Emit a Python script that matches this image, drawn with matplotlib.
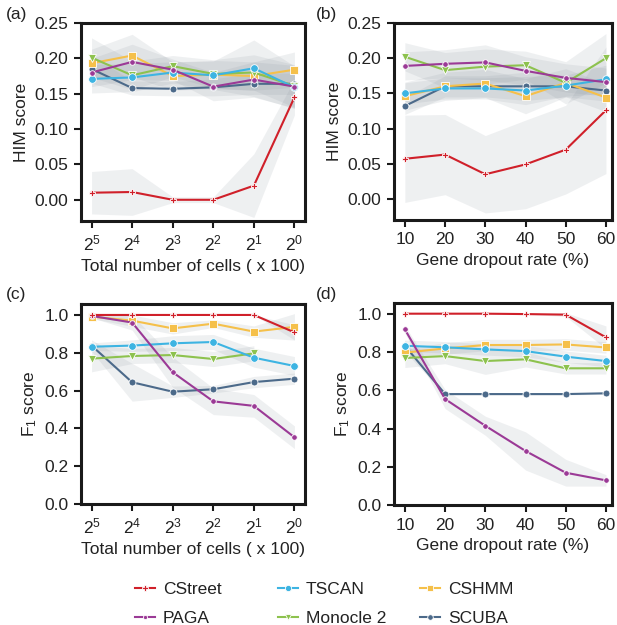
import matplotlib.pyplot as plt
import numpy as np
from matplotlib.lines import Line2D

plt.rcParams['font.family'] = ['Liberation Sans', 'DejaVu Sans']
plt.rcParams['mathtext.fontset'] = 'custom'
plt.rcParams['mathtext.rm'] = 'Liberation Sans'
plt.rcParams['mathtext.it'] = 'Liberation Sans'
plt.rcParams['text.color'] = '#222222'
plt.rcParams['axes.labelcolor'] = '#222222'
plt.rcParams['xtick.color'] = '#222222'
plt.rcParams['ytick.color'] = '#222222'

FS = 12.5

# categories
methods = ['CStreet', 'PAGA', 'TSCAN', 'Monocle 2', 'CSHMM', 'SCUBA']
cell_labels = ['$2^{5}$', '$2^{4}$', '$2^{3}$', '$2^{2}$', '$2^{1}$', '$2^{0}$']
dropout = [10, 20, 30, 40, 50, 60]

# (a) HIM score vs number of cells
him_cells = {
    'CStreet':   [0.010, 0.011, 0.000, 0.000, 0.020, 0.145],
    'PAGA':      [0.180, 0.195, 0.184, 0.160, 0.170, 0.160],
    'TSCAN':     [0.171, 0.173, 0.180, 0.176, 0.186, 0.159],
    'Monocle 2': [0.201, 0.176, 0.189, 0.178, 0.180, 0.161],
    'CSHMM':     [0.193, 0.204, 0.175, 0.177, 0.175, 0.184],
    'SCUBA':     [0.185, 0.158, 0.157, 0.159, 0.164, 0.164],
}
him_cells_sd = {
    'CStreet':   [0.030, 0.033, 0.004, 0.004, 0.045, 0.025],
    'PAGA':      [0.020, 0.025, 0.015, 0.020, 0.025, 0.030],
    'TSCAN':     [0.020, 0.020, 0.015, 0.020, 0.040, 0.030],
    'Monocle 2': [0.028, 0.020, 0.015, 0.020, 0.025, 0.030],
    'CSHMM':     [0.020, 0.030, 0.020, 0.020, 0.020, 0.025],
    'SCUBA':     [0.020, 0.010, 0.010, 0.012, 0.015, 0.015],
}

# (b) HIM score vs dropout
him_drop = {
    'CStreet':   [0.057, 0.063, 0.035, 0.049, 0.070, 0.126],
    'PAGA':      [0.189, 0.192, 0.194, 0.182, 0.172, 0.166],
    'TSCAN':     [0.150, 0.157, 0.157, 0.154, 0.161, 0.170],
    'Monocle 2': [0.202, 0.183, 0.188, 0.190, 0.165, 0.200],
    'CSHMM':     [0.146, 0.160, 0.164, 0.146, 0.165, 0.144],
    'SCUBA':     [0.132, 0.160, 0.160, 0.160, 0.160, 0.154],
}
him_drop_sd = {
    'CStreet':   [0.062, 0.057, 0.055, 0.063, 0.063, 0.090],
    'PAGA':      [0.020, 0.020, 0.025, 0.020, 0.020, 0.020],
    'TSCAN':     [0.015, 0.015, 0.015, 0.020, 0.015, 0.020],
    'Monocle 2': [0.020, 0.025, 0.025, 0.020, 0.030, 0.035],
    'CSHMM':     [0.020, 0.020, 0.020, 0.025, 0.020, 0.020],
    'SCUBA':     [0.012, 0.015, 0.015, 0.020, 0.015, 0.015],
}

# (c) F1 score vs number of cells
f1_cells = {
    'CStreet':   [1.000, 1.000, 1.000, 1.000, 1.000, 0.908],
    'PAGA':      [0.995, 0.960, 0.697, 0.543, 0.519, 0.353],
    'TSCAN':     [0.832, 0.838, 0.850, 0.857, 0.774, 0.730],
    'Monocle 2': [0.769, 0.783, 0.788, 0.767, 0.797, np.nan],
    'CSHMM':     [0.991, 0.970, 0.929, 0.954, 0.912, 0.937],
    'SCUBA':     [0.838, 0.644, 0.594, 0.607, 0.645, 0.663],
}
f1_cells_sd = {
    'CStreet':   [0.000, 0.000, 0.000, 0.000, 0.000, 0.040],
    'PAGA':      [0.010, 0.040, 0.080, 0.070, 0.060, 0.060],
    'TSCAN':     [0.020, 0.030, 0.040, 0.040, 0.050, 0.050],
    'Monocle 2': [0.070, 0.040, 0.040, 0.040, 0.040, np.nan],
    'CSHMM':     [0.010, 0.030, 0.030, 0.020, 0.030, 0.070],
    'SCUBA':     [0.030, 0.100, 0.030, 0.020, 0.030, 0.030],
}

# (d) F1 score vs dropout
f1_drop = {
    'CStreet':   [1.002, 1.002, 1.002, 1.000, 0.997, 0.878],
    'PAGA':      [0.920, 0.555, 0.415, 0.283, 0.169, 0.129],
    'TSCAN':     [0.834, 0.826, 0.815, 0.806, 0.777, 0.754],
    'Monocle 2': [0.770, 0.780, 0.754, 0.763, 0.716, 0.716],
    'CSHMM':     [0.798, 0.820, 0.838, 0.838, 0.841, 0.825],
    'SCUBA':     [0.834, 0.581, 0.581, 0.581, 0.581, 0.585],
}
f1_drop_sd = {
    'CStreet':   [0.000, 0.000, 0.000, 0.000, 0.010, 0.060],
    'PAGA':      [0.020, 0.050, 0.050, 0.100, 0.070, 0.030],
    'TSCAN':     [0.030, 0.030, 0.030, 0.030, 0.030, 0.030],
    'Monocle 2': [0.050, 0.040, 0.070, 0.040, 0.030, 0.030],
    'CSHMM':     [0.020, 0.030, 0.030, 0.030, 0.030, 0.030],
    'SCUBA':     [0.030, 0.005, 0.005, 0.005, 0.005, 0.005],
}

colors = {'CStreet': '#d0202a', 'PAGA': '#9b3a96', 'TSCAN': '#3db4e2',
          'Monocle 2': '#8dc24e', 'CSHMM': '#f5c04a', 'SCUBA': '#4c6a8a'}
markers = {'CStreet': 'P', 'PAGA': 'o', 'TSCAN': 'o',
           'Monocle 2': 'v', 'CSHMM': 's', 'SCUBA': 'o'}
msizes = {'CStreet': 5, 'PAGA': 4, 'TSCAN': 5.5,
          'Monocle 2': 5.5, 'CSHMM': 6, 'SCUBA': 5}

W, H = 617, 625
fig = plt.figure(figsize=(W / 100, H / 100), dpi=100)


def add_ax(l, t, r, b):
    return fig.add_axes([l / W, 1 - b / H, (r - l) / W, (b - t) / H])


def draw(ax, x, vals, sds):
    for m in methods:
        y = np.array(vals[m], dtype=float)
        s = np.array(sds[m], dtype=float)
        ok = ~np.isnan(y)
        ax.fill_between(np.array(x)[ok], (y - s)[ok], (y + s)[ok],
                        color='#8c96a0', alpha=0.14, linewidth=0)
    for m in reversed(methods):
        ax.plot(x, vals[m], color=colors[m], lw=1.5, marker=markers[m],
                ms=msizes[m], mec='white', mew=0.6)


def style(ax):
    for sp in ax.spines.values():
        sp.set_linewidth(2.2)
        sp.set_color('#1a1a1a')
    ax.tick_params(width=1.5, length=5, labelsize=FS, pad=4, color='#1a1a1a')


xi = np.arange(6)

ax_a = add_ax(81, 23, 305, 221)
draw(ax_a, xi, him_cells, him_cells_sd)
ax_a.set_xlim(-0.26, 5.26)
ax_a.set_ylim(-0.03, 0.25)
ax_a.set_yticks([0, 0.05, 0.10, 0.15, 0.20, 0.25])
ax_a.set_yticklabels(['0.00', '0.05', '0.10', '0.15', '0.20', '0.25'])
ax_a.set_xticks(xi)
ax_a.set_xticklabels(cell_labels)
ax_a.set_ylabel('HIM score', fontsize=FS)
ax_a.set_xlabel('Total number of cells ( x 100)', fontsize=FS)

ax_b = add_ax(394, 23, 612, 220)
draw(ax_b, dropout, him_drop, him_drop_sd)
ax_b.set_xlim(7.3, 61.5)
ax_b.set_ylim(-0.03, 0.25)
ax_b.set_yticks([0, 0.05, 0.10, 0.15, 0.20, 0.25])
ax_b.set_yticklabels(['0.00', '0.05', '0.10', '0.15', '0.20', '0.25'])
ax_b.set_xticks(dropout)
ax_b.set_ylabel('HIM score', fontsize=FS)
ax_b.set_xlabel('Gene dropout rate (%)', fontsize=FS)

ax_c = add_ax(81, 304, 305, 504)
draw(ax_c, xi, f1_cells, f1_cells_sd)
ax_c.set_xlim(-0.26, 5.26)
ax_c.set_ylim(0, 1.058)
ax_c.set_yticks([0, 0.2, 0.4, 0.6, 0.8, 1.0])
ax_c.set_xticks(xi)
ax_c.set_xticklabels(cell_labels)
ax_c.set_ylabel('F$_1$ score', fontsize=FS)
ax_c.set_xlabel('Total number of cells ( x 100)', fontsize=FS)

ax_d = add_ax(394, 303, 612, 505)
draw(ax_d, dropout, f1_drop, f1_drop_sd)
ax_d.set_xlim(7.3, 61.5)
ax_d.set_ylim(0, 1.058)
ax_d.set_yticks([0, 0.2, 0.4, 0.6, 0.8, 1.0])
ax_d.set_xticks(dropout)
ax_d.set_ylabel('F$_1$ score', fontsize=FS)
ax_d.set_xlabel('Gene dropout rate (%)', fontsize=FS)

for ax in (ax_a, ax_b, ax_c, ax_d):
    style(ax)

for lab, px, py in [('(a)', 6, 15), ('(b)', 316, 15), ('(c)', 6, 295), ('(d)', 316, 295)]:
    fig.text(px / W, 1 - py / H, lab, fontsize=FS, va='center', ha='left')

# legend: three columns of two entries
handles = {m: Line2D([], [], color=colors[m], lw=1.5, marker=markers[m], ms=msizes[m] - 1,
                     mec='white', mew=0.6) for m in methods}
for cols, px in [(['CStreet', 'PAGA'], 135), (['TSCAN', 'Monocle 2'], 278), (['CSHMM', 'SCUBA'], 420)]:
    fig.legend([handles[m] for m in cols], cols, loc='upper left',
               bbox_to_anchor=(px / W, 1 - 582 / H), frameon=False, fontsize=FS,
               handlelength=1.15, handletextpad=0.45, labelspacing=0.78, borderpad=0,
               borderaxespad=0)

fig.savefig('out.png', dpi=100)
